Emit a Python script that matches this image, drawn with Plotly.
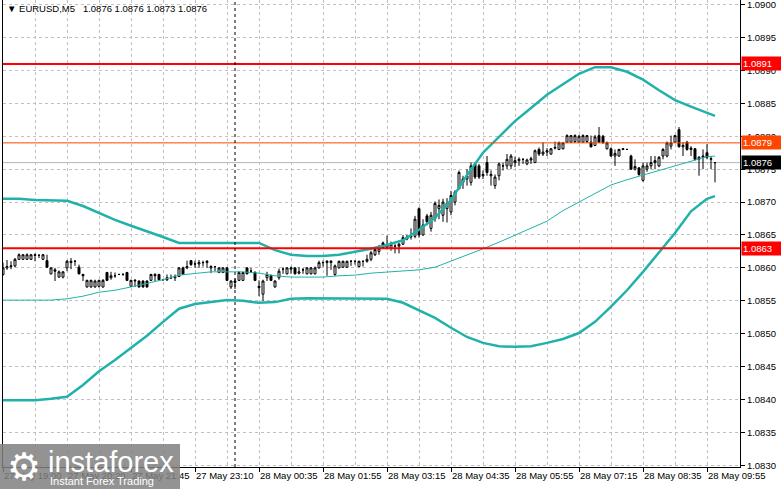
import plotly.graph_objects as go

# ---------------- data ----------------
BASE = 1.0860      # prices below are stored as pips above this level
PIP = 0.0001

bars = list(range(179))

open_pips = [
    -1.0, 0.0, 0.2, 0.3, 1.3, 1.3, 1.3, 1.3, 2.0, 1.9,
    1.3, 1.1, -0.9, -0.3, -1.4, -1.4, 0.0, 0.8, 1.0, 0.1,
    -1.0, -2.9, -2.9, -2.9, -2.8, -2.9, -0.7, -1.5, -1.2, -1.0,
    -1.0, -0.7, -2.8, -2.0, -2.0, -2.0, -2.0, -1.9, -1.0, -1.0,
    -1.8, -1.8, -1.5, -1.5, -1.3, 0.0, 0.0, 1.1, 0.6, 0.6,
    0.8, 0.8, 0.0, 0.2, -0.7, -0.7, 0.0, -2.9, -2.0, -1.9,
    -1.9, 0.0, -0.5, -0.7, -2.8, -4.0, -1.5, -1.2, -2.9, -1.5,
    -0.2, -0.9, -0.2, 0.0, -0.8, -0.3, -0.9, -0.9, -0.9, 0.0,
    0.8, 0.8, 0.8, -1.0, 0.0, 0.1, 0.1, 1.0, 1.0, 0.2,
    1.0, 1.0, 1.3, 2.0, 2.5, 3.8, 3.1, 3.0, 3.3, 3.3,
    3.6, 4.4, 4.7, 4.8, 9.0, 5.0, 7.9, 6.0, 7.5, 9.0,
    8.0, 9.0, 8.5, 10.0, 12.0, 13.0, 13.5, 13.0, 15.8, 15.5,
    14.0, 16.0, 14.0, 12.5, 14.0, 15.5, 15.5, 15.5, 16.0, 16.3,
    16.5, 15.8, 16.4, 16.0, 18.0, 17.3, 17.6, 17.3, 18.2, 18.0,
    18.1, 19.1, 19.1, 19.2, 19.1, 19.1, 19.2, 19.1, 18.6, 20.1,
    20.0, 18.1, 18.1, 17.0, 17.0, 18.0, 18.0, 17.0, 15.0, 15.2,
    13.3, 15.0, 15.5, 16.0, 15.5, 17.0, 17.0, 18.5, 19.1, 21.0,
    18.4, 19.1, 18.0, 18.1, 16.5, 16.8, 17.5, 16.5, 16.0,
]
high_pips = [
    0.8, 1.2, 1.0, 1.5, 2.2, 2.1, 2.2, 2.1, 2.2, 2.1,
    2.1, 2.0, 0.1, 0.0, -0.4, -0.5, 1.2, 1.5, 1.2, 0.5,
    -0.9, -1.8, -1.8, -1.8, -1.8, -1.7, -0.6, -0.6, -0.7, -0.9,
    -0.8, -0.6, -1.8, -1.7, -1.9, -1.9, -1.9, -0.9, -0.8, -0.9,
    -1.7, -1.0, -1.0, -1.0, 0.1, 0.2, 1.1, 1.2, 1.1, 1.2,
    1.1, 1.2, 0.4, 0.3, 0.1, 0.1, 0.1, -1.9, -1.6, -0.5,
    -0.6, 0.1, 0.0, -0.5, -1.9, -1.8, -0.6, -1.0, -1.9, -0.1,
    0.1, 0.1, 0.2, 0.1, 0.1, 0.0, 0.1, 0.1, 0.2, 1.1,
    1.1, 1.2, 1.2, 0.5, 1.1, 1.1, 1.1, 1.2, 1.1, 1.1,
    1.1, 2.0, 2.6, 3.2, 3.5, 4.0, 4.9, 4.0, 3.6, 3.8,
    5.0, 5.0, 6.0, 7.9, 9.2, 7.4, 8.2, 8.5, 10.1, 10.4,
    10.5, 10.6, 11.7, 11.8, 14.8, 14.0, 15.0, 16.0, 16.0, 15.8,
    14.8, 17.0, 14.8, 14.2, 16.0, 16.0, 17.3, 17.3, 16.9, 16.8,
    16.6, 16.6, 16.9, 18.0, 18.3, 19.1, 18.2, 18.2, 19.2, 19.2,
    19.1, 20.3, 20.2, 20.3, 20.2, 20.3, 20.2, 20.1, 20.2, 21.4,
    20.2, 19.2, 18.3, 18.0, 18.1, 18.1, 18.1, 17.2, 16.5, 15.3,
    16.0, 16.0, 17.0, 17.0, 17.0, 18.2, 19.2, 20.1, 20.2, 21.4,
    19.1, 19.3, 18.5, 18.2, 17.0, 18.0, 18.8, 17.0, 16.0,
]
low_pips = [
    -1.2, -0.3, -0.2, 0.1, 1.2, 1.2, 1.2, 1.2, 1.0, 1.5,
    1.2, 0.0, -1.0, -2.0, -1.5, -1.6, -0.5, -0.2, 0.3, -1.0,
    -2.0, -3.0, -3.0, -3.0, -3.0, -3.0, -2.0, -1.8, -1.5, -1.1,
    -1.2, -2.0, -2.9, -2.9, -3.0, -3.0, -3.0, -2.0, -2.0, -1.9,
    -1.9, -2.0, -1.7, -2.0, -1.4, -1.1, -0.2, 0.3, 0.0, 0.0,
    0.2, 0.0, -0.8, -0.5, -0.8, -0.8, -2.0, -3.2, -3.2, -2.0,
    -2.0, -1.0, -0.8, -2.0, -4.3, -5.0, -2.0, -2.0, -3.0, -1.8,
    -0.9, -1.0, -0.9, -1.0, -1.0, -0.9, -1.0, -1.0, -1.0, -0.1,
    0.2, -1.2, -0.3, -1.2, -0.1, 0.0, 0.0, 0.3, 0.5, 0.1,
    0.2, 0.8, 1.0, 1.8, 2.0, 2.9, 2.8, 2.6, 2.2, 2.2,
    3.5, 4.2, 4.3, 4.5, 4.6, 4.9, 6.5, 5.5, 7.0, 7.4,
    7.0, 6.9, 8.0, 9.5, 12.0, 12.0, 12.5, 12.5, 13.5, 13.5,
    13.5, 14.0, 12.5, 12.0, 13.3, 14.8, 15.0, 15.0, 15.3, 15.5,
    15.8, 15.6, 15.8, 16.0, 17.0, 17.0, 17.0, 17.2, 18.0, 17.9,
    18.0, 19.0, 19.0, 19.0, 19.0, 19.0, 19.0, 18.3, 18.5, 19.0,
    18.9, 18.0, 16.9, 15.5, 16.9, 17.9, 18.0, 14.9, 14.8, 14.0,
    13.1, 14.6, 15.0, 15.0, 15.3, 16.5, 16.8, 18.0, 19.0, 18.3,
    17.0, 17.8, 17.0, 16.3, 14.0, 15.0, 16.5, 15.0, 13.0,
]
close_pips = [
    0.0, 0.2, 0.3, 1.3, 2.0, 2.0, 2.0, 2.0, 1.9, 1.9,
    2.0, 0.1, 0.0, -0.5, -0.6, -0.6, 1.0, 1.0, 1.0, -0.9,
    -1.2, -1.9, -1.9, -2.0, -1.9, -1.9, -1.9, -1.2, -1.2, -1.0,
    -1.0, -1.9, -1.9, -1.9, -2.9, -2.9, -2.9, -1.0, -1.2, -1.8,
    -1.8, -1.5, -1.5, -1.3, 0.0, -1.0, 0.2, 0.5, 0.6, 0.8,
    0.8, 1.0, 0.2, 0.2, 0.0, 0.0, -1.9, -2.0, -2.2, -0.7,
    -0.7, -0.9, -0.5, -1.9, -3.0, -2.0, -1.0, -1.9, -2.0, -0.5,
    -0.2, 0.0, 0.0, -0.9, -0.6, -0.3, 0.0, 0.0, 0.0, 0.8,
    0.8, 1.0, 1.0, 0.3, 1.0, 1.0, 1.0, 1.0, 1.0, 1.0,
    1.0, 1.3, 2.3, 2.8, 3.0, 3.1, 3.5, 3.6, 3.3, 3.6,
    4.6, 4.7, 4.8, 7.4, 5.0, 6.5, 7.0, 8.0, 9.8, 9.5,
    10.0, 9.8, 11.0, 11.5, 14.5, 13.5, 14.0, 15.5, 13.8, 13.8,
    14.2, 14.5, 14.2, 13.8, 15.8, 15.5, 16.5, 17.0, 16.3, 16.5,
    16.5, 16.4, 16.6, 17.8, 17.3, 17.6, 17.8, 18.1, 18.3, 19.0,
    19.0, 20.1, 20.1, 20.1, 20.0, 20.1, 20.1, 18.4, 19.9, 19.1,
    19.0, 19.0, 17.0, 17.4, 18.0, 18.1, 18.0, 15.0, 15.4, 14.2,
    15.5, 15.5, 16.0, 16.3, 16.8, 18.0, 19.0, 19.0, 20.1, 18.4,
    18.6, 18.0, 18.2, 16.5, 16.8, 17.0, 16.8, 16.6, 16.0,
]

# Bollinger bands read every 4 bars
band_bars = list(range(0, 177, 4)) + [178]
bb_upper = [
    1.08705, 1.08705, 1.08703, 1.08703, 1.08702, 1.08694, 1.08683, 1.08673,
    1.08664, 1.08656, 1.08647, 1.08638, 1.08638, 1.08639, 1.08639, 1.08639,
    1.08638, 1.08627, 1.08620, 1.08618, 1.08618, 1.08620, 1.08624, 1.08629,
    1.08635, 1.08642, 1.08658, 1.08676, 1.08703, 1.08741, 1.08775, 1.08799,
    1.08823, 1.08843, 1.08863, 1.08879, 1.08895, 1.08905, 1.08905, 1.08898,
    1.08886, 1.08870, 1.08855, 1.08845, 1.08835, 1.08831,
]
bb_lower = [
    1.08399, 1.08399, 1.08399, 1.08401, 1.08404, 1.08422, 1.08443, 1.08460,
    1.08478, 1.08497, 1.08518, 1.08538, 1.08545, 1.08548, 1.08551, 1.08550,
    1.08547, 1.08548, 1.08553, 1.08554, 1.08554, 1.08554, 1.08554, 1.08554,
    1.08553, 1.08547, 1.08536, 1.08524, 1.08509, 1.08495, 1.08486, 1.08481,
    1.08480, 1.08481, 1.08486, 1.08492, 1.08501, 1.08518, 1.08541, 1.08566,
    1.08594, 1.08624, 1.08653, 1.08686, 1.08705, 1.08709,
]
bb_middle = [
    1.08551, 1.08551, 1.08551, 1.08551, 1.08553, 1.08557, 1.08563, 1.08566,
    1.08571, 1.08576, 1.08582, 1.08589, 1.08592, 1.08594, 1.08594, 1.08594,
    1.08592, 1.08588, 1.08586, 1.08586, 1.08586, 1.08588, 1.08589, 1.08592,
    1.08594, 1.08595, 1.08597, 1.08601, 1.08610, 1.08620, 1.08629, 1.08639,
    1.08650, 1.08661, 1.08671, 1.08687, 1.08700, 1.08714, 1.08726, 1.08734,
    1.08741, 1.08749, 1.08755, 1.08762, 1.08769, 1.08770,
]

tick_bars = [0, 16, 32, 48, 64, 80, 96, 112, 128, 144, 160, 176]
tick_labels = ["27 May 19:00", "27 May 20:20", "27 May 21:45", "27 May 23:10",
               "28 May 00:35", "28 May 01:55", "28 May 03:15", "28 May 04:35",
               "28 May 05:55", "28 May 07:15", "28 May 08:35", "28 May 09:55"]
minor_bars = [8, 24, 40, 56, 72, 88, 104, 120, 136, 152, 168, 184]
day_separator_bar = 58

level_prices = [1.0891, 1.0863]
level_labels = ["1.0891", "1.0863"]
alert_price, alert_label = 1.0879, "1.0879"
bid_price, bid_label = 1.0876, "1.0876"

title_text = "▼ EURUSD,M5\u00a0\u00a0 1.0876 1.0876 1.0873 1.0876"

# ---------------- figure ----------------
to_price = lambda arr: [BASE + v * PIP for v in arr]

TEAL = "#20B2AA"
GRID = "#C0C0C0"
FONT = "Liberation Sans"

fig = go.Figure()

fig.add_trace(go.Candlestick(
    x=bars, open=to_price(open_pips), high=to_price(high_pips),
    low=to_price(low_pips), close=to_price(close_pips),
    increasing=dict(line=dict(color="black", width=1), fillcolor="white"),
    decreasing=dict(line=dict(color="black", width=1), fillcolor="black"),
    whiskerwidth=0, showlegend=False, hoverinfo="skip",
))
fig.add_trace(go.Scatter(x=band_bars, y=bb_middle, mode="lines",
                         line=dict(color=TEAL, width=1), showlegend=False, hoverinfo="skip"))
fig.add_trace(go.Scatter(x=band_bars, y=bb_upper, mode="lines",
                         line=dict(color=TEAL, width=2.5), showlegend=False, hoverinfo="skip"))
fig.add_trace(go.Scatter(x=band_bars, y=bb_lower, mode="lines",
                         line=dict(color=TEAL, width=2.5), showlegend=False, hoverinfo="skip"))

shapes = []
# bid line (behind)
shapes.append(dict(type="line", xref="paper", x0=0, x1=1, yref="y", y0=bid_price, y1=bid_price,
                   line=dict(color="#B4B4B4", width=1), layer="below"))
# alert line
shapes.append(dict(type="line", xref="paper", x0=0, x1=1, yref="y", y0=alert_price, y1=alert_price,
                   line=dict(color="#FF4500", width=1), layer="above"))
for p in level_prices:
    shapes.append(dict(type="line", xref="paper", x0=0, x1=1, yref="y", y0=p, y1=p,
                       line=dict(color="#FF0000", width=2), layer="above"))
# day separator
shapes.append(dict(type="line", xref="x", x0=day_separator_bar, x1=day_separator_bar,
                   yref="paper", y0=0, y1=1,
                   line=dict(color="black", width=1, dash="3px,3px"), layer="above"))
# watermark box
shapes.append(dict(type="rect", xref="paper", yref="paper",
                   x0=-3 / 737, x1=177 / 737, y0=-22 / 467, y1=23 / 467,
                   fillcolor="rgba(128,128,128,0.85)", line=dict(width=0), layer="above"))

annotations = []
annotations.append(dict(xref="paper", yref="paper", x=0, y=1, xanchor="left", yanchor="top",
                        xshift=2, yshift=-1, text=title_text, showarrow=False,
                        font=dict(family=FONT, size=9.5, color="black")))


def price_box(price, label, bg):
    return dict(xref="paper", yref="y", x=1, y=price, xanchor="left", yanchor="middle",
                xshift=1, text=label, showarrow=False, bgcolor=bg, borderpad=1,
                width=38, align="left",
                font=dict(family=FONT, size=9.5, color="white"))


for p, lab in zip(level_prices, level_labels):
    annotations.append(price_box(p, lab, "#FF0000"))
annotations.append(price_box(alert_price, alert_label, "#FF4500"))
annotations.append(price_box(bid_price, bid_label, "#000000"))

# watermark texts
annotations.append(dict(xref="paper", yref="paper", x=21 / 737, y=0, xanchor="center",
                        yanchor="middle", text="⚙", showarrow=False,
                        font=dict(family="DejaVu Sans", size=38, color="white")))
annotations.append(dict(xref="paper", yref="paper", x=43 / 737, y=5 / 467, xanchor="left",
                        yanchor="middle", text="instaforex", showarrow=False,
                        font=dict(family=FONT, size=29, color="white")))
annotations.append(dict(xref="paper", yref="paper", x=45 / 737, y=-14 / 467, xanchor="left",
                        yanchor="middle", text="Instant Forex Trading", showarrow=False,
                        font=dict(family=FONT, size=11, color="white")))

fig.update_layout(
    width=781, height=489,
    margin=dict(l=3, r=41, t=0, b=22, pad=0),
    paper_bgcolor="white", plot_bgcolor="white",
    font=dict(family=FONT, size=9.5, color="black"),
    showlegend=False,
    shapes=shapes, annotations=annotations,
    xaxis=dict(
        range=[0, 184.25], rangeslider=dict(visible=False),
        tickmode="array", tickvals=tick_bars, ticktext=tick_labels,
        tickangle=0, ticklabeloverflow="allow",
        ticks="outside", ticklen=4, tickcolor="black", tickwidth=1,
        ticklabelposition="outside right",
        showgrid=True, gridcolor=GRID, griddash="3px,3px", gridwidth=1,
        minor=dict(tickmode="array", tickvals=minor_bars, showgrid=True,
                   gridcolor=GRID, griddash="3px,3px", gridwidth=1, ticks=""),
        showline=True, linecolor="black", linewidth=1, zeroline=False,
        tickfont=dict(family=FONT, size=9.5, color="black"),
    ),
    yaxis=dict(
        side="right", range=[1.082974, 1.090071],
        tick0=1.0800, dtick=0.0005, tickformat=".4f", ticklabeloverflow="allow",
        ticks="outside", ticklen=4, tickcolor="black", tickwidth=1,
        showgrid=True, gridcolor=GRID, griddash="3px,3px", gridwidth=1,
        showline=True, mirror=True, linecolor="black", linewidth=1, zeroline=False,
        tickfont=dict(family=FONT, size=9.5, color="black"),
    ),
)

fig.write_html(
    "out.html",
    config={"displayModeBar": False},
    post_script="document.body.style.margin='0';document.body.style.padding='0';"
                "document.documentElement.style.overflow='hidden';",
)
